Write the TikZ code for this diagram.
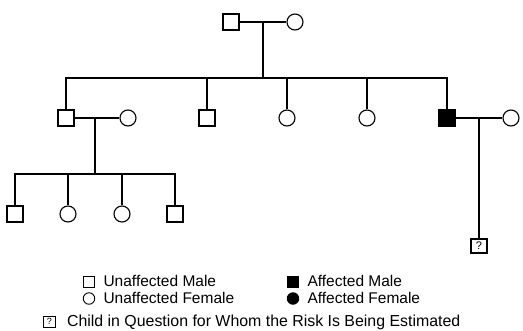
\documentclass[tikz,border=0pt]{standalone}
\usepackage{fontspec}
\setmainfont{Liberation Sans}
\begin{document}
\begin{tikzpicture}[x=1pt,y=-1pt,
  line width=1.1pt,
  male/.style={draw,rectangle,minimum size=16pt,inner sep=0pt},
  female/.style={draw,circle,minimum size=16pt,inner sep=0pt},
  affm/.style={male,fill=black},
  quest/.style={draw,rectangle,minimum width=16pt,minimum height=14pt,inner sep=0pt,font=\fontsize{11}{11}\selectfont},
  lmale/.style={draw,rectangle,minimum size=11pt,inner sep=0pt,line width=0.9pt},
  lfemale/.style={draw,circle,minimum size=11.5pt,inner sep=0pt,line width=0.9pt},
  lquest/.style={draw,rectangle,minimum width=12pt,minimum height=11pt,inner sep=0pt,line width=0.8pt,font=\fontsize{9}{9}\selectfont},
  ltext/.style={anchor=base west,inner sep=0pt,font=\fontsize{15.5}{15.5}\selectfont}]
\useasboundingbox (0,0) rectangle (523,330);
% generation I
\node[male] (g1m) at (231,22) {};
\node[female] (g1f) at (295,22) {};
\draw (g1m.east) -- (g1f.west);
\coordinate (d1) at (263,22);
\coordinate (s1) at (263,78);
\draw (d1) -- (s1);
% generation II
\node[male] (m2) at (66,118) {};
\node[female] (f2) at (128,118) {};
\node[male] (m3) at (207,118) {};
\node[female] (f3) at (287,118) {};
\node[female] (f4) at (367,118) {};
\node[affm] (am) at (447,118) {};
\node[female] (f5) at (511,118) {};
\draw (m2.north) |- (s1) -| (am.north);
\draw (m3.north) -- (m3.north |- s1);
\draw (f3.north) -- (f3.north |- s1);
\draw (f4.north) -- (f4.north |- s1);
% left family
\draw (m2.east) -- (f2.west);
\coordinate (d2) at (95,118);
\coordinate (s2) at (95,174);
\draw (d2) -- (s2);
\node[male] (c1) at (15,214) {};
\node[female] (c2) at (68,214) {};
\node[female] (c3) at (122,214) {};
\node[male] (c4) at (175,214) {};
\draw (c1.north) |- (s2) -| (c4.north);
\draw (c2.north) -- (c2.north |- s2);
\draw (c3.north) -- (c3.north |- s2);
% right family
\draw (am.east) -- (f5.west);
\coordinate (d3) at (479,118);
\node[quest] (q) at (479,246) {?};
\draw (d3) -- (q.north);
% legend
\node[lmale] (l1) at (89,281.5) {};
\node[ltext] (t1) at (103,286.5) {Unaffected Male};
\node[lfemale] (l2) at (89,298.5) {};
\node[ltext] (t2) at (103,303.5) {Unaffected Female};
\node[lmale,fill=black] (l3) at (293,281.5) {};
\node[ltext] (t3) at (307,286.5) {Affected Male};
\node[lfemale,fill=black] (l4) at (293,298.5) {};
\node[ltext] (t4) at (307,303.5) {Affected Female};
\node[lquest] (l5) at (49.5,321.5) {?};
\node[ltext,font=\fontsize{15.9}{15.9}\selectfont] (t5) at (66.5,326.5) {Child in Question for Whom the Risk Is Being Estimated};
\end{tikzpicture}
\end{document}
